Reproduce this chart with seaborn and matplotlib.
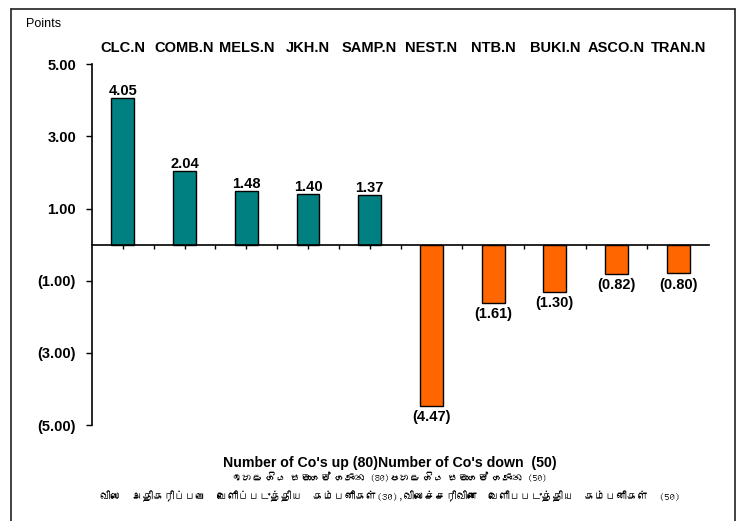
import matplotlib
matplotlib.use('Agg')
import matplotlib.pyplot as plt
import matplotlib.font_manager as fm
from matplotlib.ft2font import FT2Font
from matplotlib.ticker import FuncFormatter, FixedLocator
import pandas as pd
import seaborn as sns

# data
stocks = ['CLC.N', 'COMB.N', 'MELS.N', 'JKH.N', 'SAMP.N',
          'NEST.N', 'NTB.N', 'BUKI.N', 'ASCO.N', 'TRAN.N']
changes = [4.05, 2.04, 1.48, 1.40, 1.37, -4.47, -1.61, -1.30, -0.82, -0.80]
y_ticks = [5, 3, 1, -1, -3, -5]

title_en = "Number of Co's up (80)Number of Co's down  (50)"
title_si = "ඉහළ ගිය සමාගම් ගණන (80)පහළ ගිය සමාගම් ගණන (50)"
title_ta = ("விலை  அதிகரிப்பபை  வெளிப்படுத்திய  கம்பனிகள்(30),"
            "விலைச்சரிவினை  வெளிபபடுத்திய  கம்பனிகள்  (50)")

df = pd.DataFrame({'stock': stocks, 'change': changes})
df['dir'] = ['up' if v >= 0 else 'down' for v in changes]

sns.set_style('white')
plt.rcParams['font.family'] = ['Liberation Sans', 'DejaVu Sans']
plt.rcParams['text.color'] = 'black'
plt.rcParams['xtick.color'] = 'black'
plt.rcParams['ytick.color'] = 'black'


def find_font(ch):
    # look for an installed font that has the glyph
    for f in fm.fontManager.ttflist:
        try:
            if ord(ch) in FT2Font(f.fname).get_charmap():
                return f.name
        except Exception:
            pass
    return 'DejaVu Sans'


si_font = find_font('ඉ')
ta_font = find_font('வ')


def fmt(v, pos=None):
    return f'{v:.2f}' if v >= 0 else f'({-v:.2f})'


fig = plt.figure(figsize=(7.48, 5.21), dpi=100)
ax = fig.add_axes([0.123, 0.184, 0.825, 0.693])

sns.barplot(data=df, x='stock', y='change', hue='dir',
            palette={'up': '#008080', 'down': '#FF6600'}, saturation=1,
            dodge=False, width=0.37, edgecolor='black', linewidth=1,
            legend=False, ax=ax)

for c in ax.containers:
    neg = c.datavalues[0] < 0
    ax.bar_label(c, fmt=fmt, padding=3 if neg else 0, fontsize=10.5,
                 fontweight='bold', color='black')

ax.set_ylim(-5, 5)
ax.set_xlim(-0.5, len(stocks) - 0.5)
ax.yaxis.set_major_locator(FixedLocator(y_ticks))
ax.yaxis.set_major_formatter(FuncFormatter(fmt))
ax.set_xlabel('')
ax.set_ylabel('')

for s in ['top', 'right']:
    ax.spines[s].set_visible(False)
ax.spines['bottom'].set_position(('data', 0))
ax.spines['left'].set_linewidth(1.2)
ax.spines['bottom'].set_linewidth(1.2)
ax.spines['left'].set_color('black')
ax.spines['bottom'].set_color('black')

ax.set_xticks(range(len(stocks)))
ax.set_xticks([i + 0.5 for i in range(len(stocks) - 1)], minor=True)
ax.set_xticklabels(stocks)
ax.tick_params(axis='x', which='both', bottom=True, top=False,
               labelbottom=False, labeltop=True, direction='out',
               length=3, width=1, color='black', pad=3.5)
ax.tick_params(axis='x', which='major', labelsize=10.5)
for t in ax.get_xticklabels():
    t.set_fontweight('bold')
ax.tick_params(axis='y', direction='out', length=4, width=1, color='black',
               left=True, labelsize=10.5, pad=7.5)
for t in ax.get_yticklabels():
    t.set_fontweight('bold')

fig.text(0.035, 0.953, 'Points', fontsize=9, ha='left', va='center')

fig.text(0.521, 0.111, title_en, fontsize=10.2, fontweight='bold',
         ha='center', va='center')
fig.text(0.521, 0.084, title_si, fontsize=7.1, ha='center', va='center',
         family=[si_font, 'Liberation Sans'])
fig.text(0.521, 0.048, title_ta, fontsize=7.7, ha='center', va='center',
         family=[ta_font, 'Liberation Sans'])

# chart frame
fig.add_artist(plt.Line2D([0.015, 0.015], [0, 0.983], color='#222222', lw=1.2))
fig.add_artist(plt.Line2D([0.015, 0.983], [0.983, 0.983], color='#222222', lw=1.2))
fig.add_artist(plt.Line2D([0.983, 0.983], [0, 0.983], color='#222222', lw=1.2))

fig.savefig('out.png', dpi=100)
